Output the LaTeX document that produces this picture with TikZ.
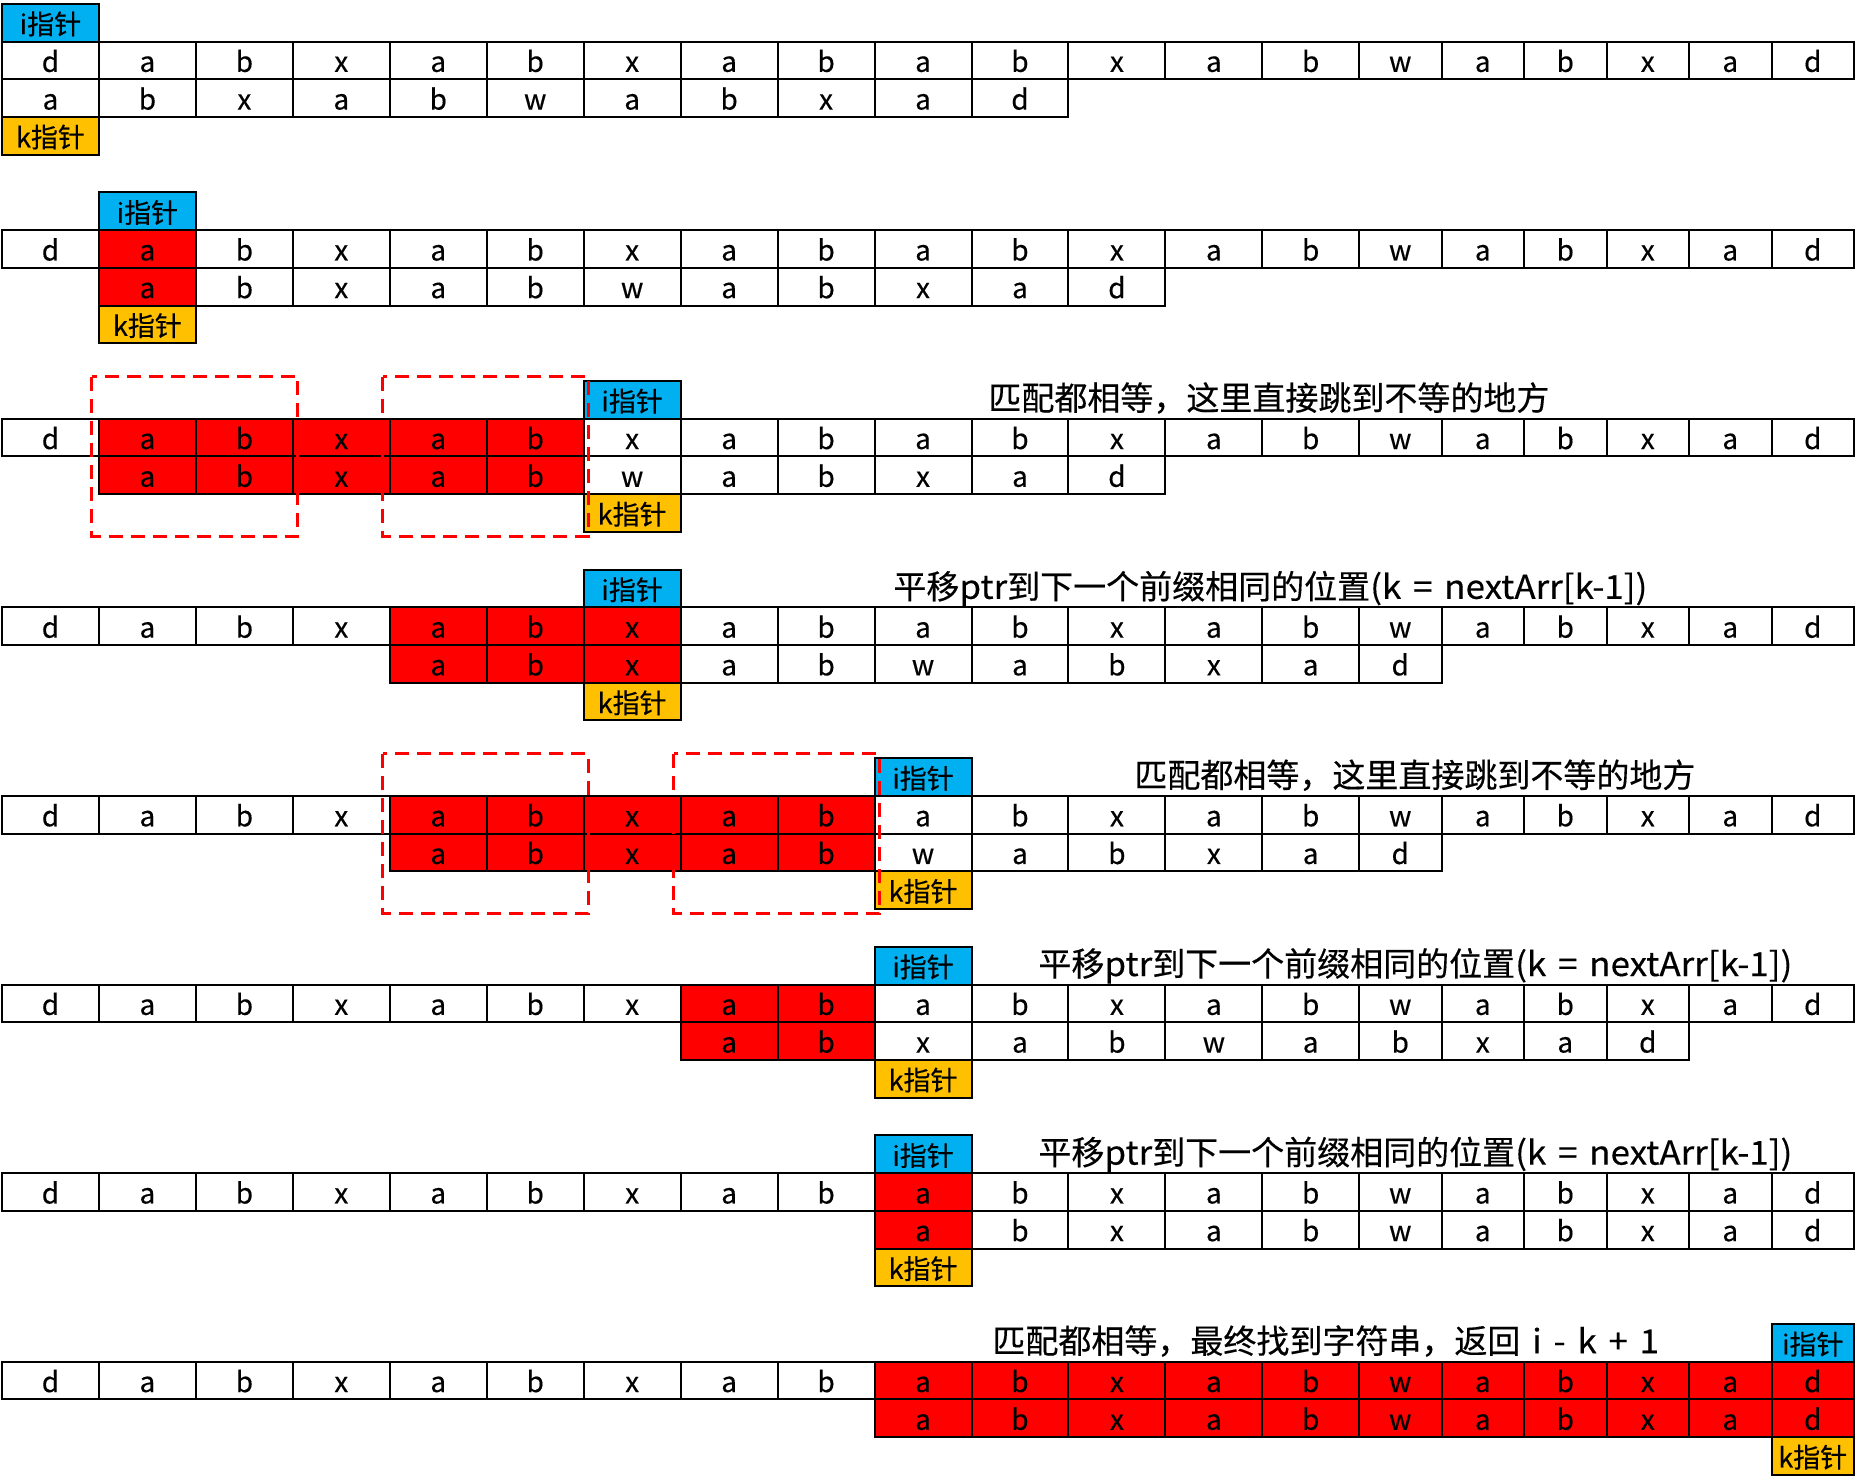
\documentclass[tikz,border=0pt]{standalone}
\usepackage{fontspec}
\setmainfont{Noto Sans CJK SC}[FakeBold=0.35]
\newfontfamily\latinwide{Noto Sans CJK SC}[FakeBold=0.35, FakeStretch=1.06, WordSpace=1.5]
\usetikzlibrary{positioning}
\definecolor{ptrblue}{HTML}{00B0F0}
\definecolor{ptrgold}{HTML}{FFC000}
\definecolor{hitred}{HTML}{FF0000}

\begin{document}
\begin{tikzpicture}[
  x=0.5pt, y=-0.5pt,
  %% ─── 節點樣式定義 ────────────────────────────────────────────────
  cell/.style={
    draw=black, line width=1pt, outer sep=0pt, inner sep=0pt,
    minimum height=18.85pt, text height=11.5pt, text depth=0pt,
    font=\fontsize{14}{16}\selectfont},
  iptr/.style={cell, fill=ptrblue, font=\fontsize{13.5}{15}\selectfont},
  kptr/.style={cell, fill=ptrgold, font=\fontsize{13.5}{15}\selectfont},
  note/.style={anchor=base west, inner sep=0pt, font=\fontsize{16.5}{18}\selectfont},
  dashbox/.style={draw=hitred, line width=1.5pt, dash pattern=on 7pt off 4pt}
]
  \useasboundingbox (0,0) rectangle (1867,1479);

  %% ─── 1. 主串、模式串與 i/k 指針 (行號/偏移/紅色起/紅色止/指針列) ──
  \foreach \r/\s/\ra/\rb/\p in {1/0/-1/-1/0, 2/1/1/1/1, 3/1/1/5/6, 4/4/4/6/6,
                                5/4/4/8/9, 6/7/7/8/9, 7/9/9/9/9, 8/9/9/19/19} {
    \pgfmathsetmacro\yt{41.5+188.6*(\r-1)}
    % 主串
    \foreach \c [count=\j from 0] in {d,a,b,x,a,b,x,a,b,a,b,x,a,b,w,a,b,x,a,d} {
      \pgfmathsetmacro\xa{\j<14 ? 2+96.95*\j : 1359+82.5*(\j-14)}
      \pgfmathsetmacro\xb{\j<13 ? 2+96.95*(\j+1) : 1359+82.5*(\j-13)}
      \pgfmathsetmacro\cw{(\xb-\xa)*0.5}
      \pgfmathsetmacro\xm{(\xa+\xb)/2}
      \pgfmathtruncatemacro\ishit{(\j>=\ra)*(\j<=\rb)}
      \ifnum\ishit=1 \def\cellfill{hitred}\else\def\cellfill{white}\fi
      \node[cell, fill=\cellfill, minimum width=\cw pt] (T\r-\j) at ({\xm},{\yt+18.85}) {\c};
    }
    % 模式串
    \foreach \c [count=\k from 0] in {a,b,x,a,b,w,a,b,x,a,d} {
      \pgfmathtruncatemacro\j{\s+\k}
      \pgfmathsetmacro\xa{\j<14 ? 2+96.95*\j : 1359+82.5*(\j-14)}
      \pgfmathsetmacro\xb{\j<13 ? 2+96.95*(\j+1) : 1359+82.5*(\j-13)}
      \pgfmathsetmacro\cw{(\xb-\xa)*0.5}
      \pgfmathsetmacro\xm{(\xa+\xb)/2}
      \pgfmathtruncatemacro\ishit{(\j>=\ra)*(\j<=\rb)}
      \ifnum\ishit=1 \def\cellfill{hitred}\else\def\cellfill{white}\fi
      \node[cell, fill=\cellfill, minimum width=\cw pt] (P\r-\j) at ({\xm},{\yt+56.55}) {\c};
    }
    % 指針
    \pgfmathsetmacro\pw{(\p<14 ? 96.95 : 82.5)*0.5}
    \node[iptr, minimum width=\pw pt, above=0pt of T\r-\p] (I\r) {i指针};
    \node[kptr, minimum width=\pw pt, below=0pt of P\r-\p] (K\r) {k指针};
  }

  %% ─── 2. 說明文字 ─────────────────────────────────────────────────
  \foreach \r/\nx/\txt in {
      3/988/{匹配都相等，这里直接跳到不等的地方},
      4/893/{平移{\latinwide ptr}到下一个前缀相同的位置{\latinwide (k = nextArr[k-1])}},
      5/1134/{匹配都相等，这里直接跳到不等的地方},
      6/1038/{平移{\latinwide ptr}到下一个前缀相同的位置{\latinwide (k = nextArr[k-1])}},
      7/1038/{平移{\latinwide ptr}到下一个前缀相同的位置{\latinwide (k = nextArr[k-1])}},
      8/992/{匹配都相等，最终找到字符串，返回{\latinwide{} i - k + 1}}} {
    \node[note] (N\r) at ({\nx},{41.5+188.6*(\r-1)-8.5}) {\txt};
  }

  %% ─── 3. 前後綴虛線框 ─────────────────────────────────────────────
  \foreach \r/\a/\b in {3/1/2, 3/4/5, 5/4/5, 5/7/8} {
    \draw[dashbox] ([xshift=-3.5pt,yshift=21pt]T\r-\a.north west)
      rectangle ([xshift=2.5pt,yshift=-21pt]P\r-\b.south east);
  }

\end{tikzpicture}
\end{document}
